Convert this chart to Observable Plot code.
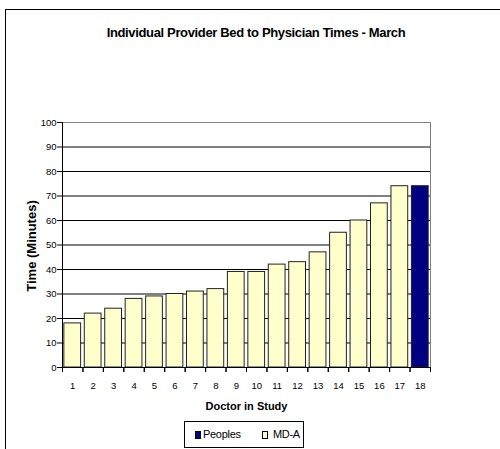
<!DOCTYPE html>
<html><head><meta charset="utf-8">
<script src="https://cdn.jsdelivr.net/npm/d3@7"></script>
<script src="https://cdn.jsdelivr.net/npm/@observablehq/plot@0.6"></script>
<style>
body{margin:0;background:#fff;font-family:"Liberation Sans",Arial,sans-serif;}
#wrap{position:relative;width:500px;height:449px;overflow:hidden;background:#fff;}
#border{position:absolute;left:5px;top:9px;width:600px;height:600px;border-left:1px solid #000;border-top:1px solid #000;box-sizing:border-box;}
#title{position:absolute;left:0;width:512px;top:26px;text-align:center;font-weight:bold;font-size:13px;line-height:1;letter-spacing:-0.35px;color:#000;white-space:nowrap;}
#chart{position:absolute;left:0;top:100px;}
#legend{position:absolute;left:184px;top:421px;width:120px;height:27px;border:1px solid #000;box-sizing:border-box;background:#fff;font-size:11px;line-height:1;}
.sw{position:absolute;width:6px;height:8px;border:1px solid #000;box-sizing:border-box;top:9px;}
.lt{position:absolute;top:7px;letter-spacing:-0.3px;color:#000;white-space:nowrap;}
</style></head>
<body>
<div id="wrap">
  <div id="border"></div>
  <div id="title"></div>
  <div id="chart"></div>
  <div id="legend"></div>
</div>
<script>
const chartTitle = "Individual Provider Bed to Physician Times - March";
const xLabel = "Doctor in Study";
const yLabel = "Time (Minutes)";
const doctors = ["1","2","3","4","5","6","7","8","9","10","11","12","13","14","15","16","17","18"];
const times = [18,22,24,28,29,30,31,32,39,39,42,43,47,55,60,67,74,74];
const groups = ["MD-A","MD-A","MD-A","MD-A","MD-A","MD-A","MD-A","MD-A","MD-A","MD-A","MD-A","MD-A","MD-A","MD-A","MD-A","MD-A","MD-A","Peoples"];
const legendLabels = ["Peoples","MD-A"];
const legendColors = ["#000080","#FFFFCC"];
const yTicks = [0,10,20,30,40,50,60,70,80,90,100];

const data = doctors.map((d,i)=>({doctor:d, time:times[i], group:groups[i]}));

document.getElementById("title").textContent = chartTitle;

const W = 500, H = 318, mL = 62, mR = 70, mT = 22, mB = 51;
const step = (W - mL - mR) / doctors.length;
const inset = step * 0.09;

const plot = Plot.plot({
  width: W, height: H,
  marginLeft: mL, marginRight: mR, marginTop: mT, marginBottom: mB,
  style: {fontFamily: '"Liberation Sans", Arial, sans-serif', fontSize: "9.5px", color: "#000", background: "transparent"},
  x: {domain: doctors, padding: 0, round: false, label: null},
  y: {domain: [0,100], label: null},
  color: {domain: legendLabels, range: legendColors},
  marks: [
    Plot.gridY(yTicks, {stroke: "#000", strokeOpacity: 1}),
    Plot.frame({stroke: "#808080"}),
    Plot.barY(data, {x: "doctor", y: "time", fill: "group", stroke: "#222", strokeWidth: 1, insetLeft: inset, insetRight: inset}),
    Plot.ruleY([0], {stroke: "#000"}),
    Plot.frame({anchor: "left", stroke: "#000"}),
    Plot.axisY({ticks: yTicks, tickSize: 5, tickPadding: 1, stroke: "#000", label: null}),
    Plot.axisX({tickSize: 0, tickPadding: 15, label: null}),
    Plot.axisX({tickSize: 5, tickFormat: () => "", dx: -step/2, label: null}),
    Plot.axisX({tickSize: 5, tickFormat: () => "", dx: step/2, label: null}),
    Plot.text([xLabel], {frameAnchor: "bottom", dy: 42.5, fontWeight: "bold", fontSize: 11, letterSpacing: -0.2}),
    Plot.text([yLabel], {frameAnchor: "left", textAnchor: "middle", dx: -31, dy: 1, rotate: -90, fontWeight: "bold", fontSize: 13})
  ]
});
document.getElementById("chart").appendChild(plot);

const leg = document.getElementById("legend");
const swX = [10, 77], txX = [18, 88];
legendLabels.forEach((lab, i) => {
  const s = document.createElement("div");
  s.className = "sw"; s.style.left = swX[i] + "px"; s.style.background = legendColors[i];
  leg.appendChild(s);
  const t = document.createElement("div");
  t.className = "lt"; t.style.left = txX[i] + "px"; t.textContent = lab;
  leg.appendChild(t);
});
</script>
</body></html>
